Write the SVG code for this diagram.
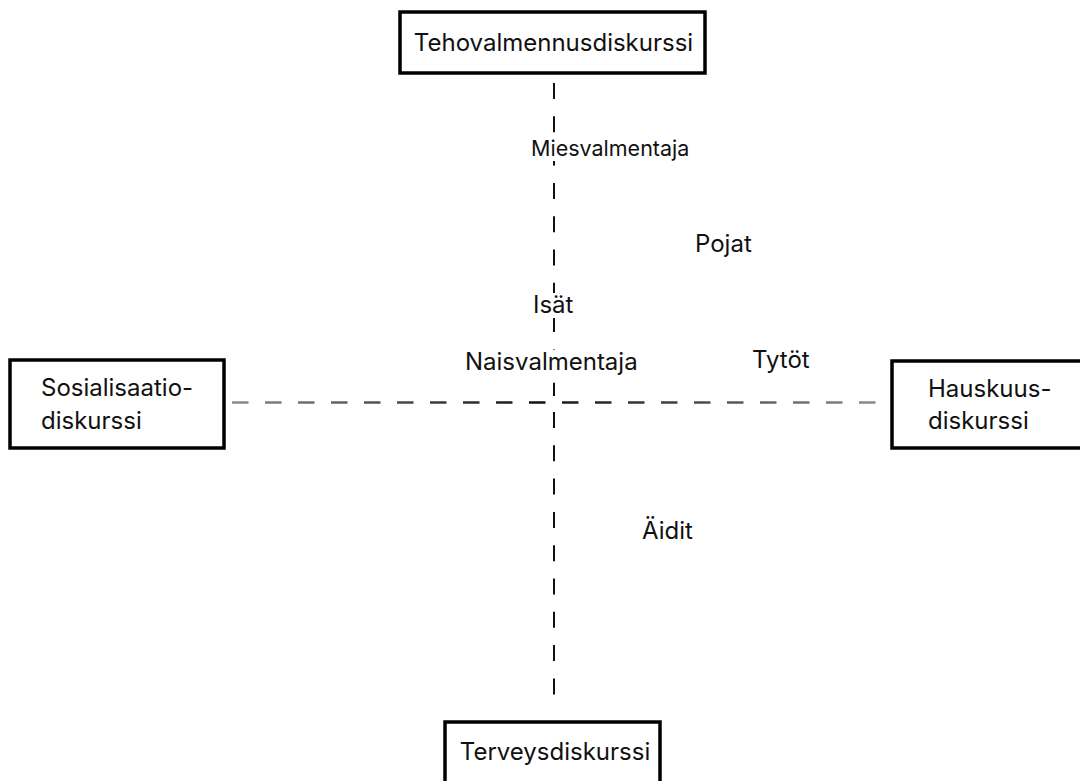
<svg xmlns="http://www.w3.org/2000/svg" width="1080" height="781" viewBox="0 0 1080 781">
  <style>
    .box { fill: #ffffff; stroke: #000000; stroke-width: 3.5; }
    .txt { font-family: Inter, "Noto Sans", "Liberation Sans", sans-serif; font-size: 24px; fill: #111111; }
    .sm { font-size: 21.5px; }
    .bg { fill: #ffffff; stroke: none; }
    .vline { stroke: #111111; stroke-width: 2; stroke-dasharray: 16 17.3; fill: none; }
    .hline { stroke: url(#hgrad); stroke-width: 2.6; stroke-dasharray: 16.5 16.5; fill: none; }
  </style>
  <defs>
    <linearGradient id="hgrad" gradientUnits="userSpaceOnUse" x1="232" y1="0" x2="877" y2="0">
      <stop offset="0" stop-color="#8c8c8c"/>
      <stop offset="0.48" stop-color="#111111"/>
      <stop offset="1" stop-color="#8c8c8c"/>
    </linearGradient>
  </defs>
  <rect x="0" y="0" width="1080" height="781" fill="#ffffff"/>

  <g id="connectors">
    <line class="vline" x1="554" y1="83" x2="554" y2="396"/>
    <line class="vline" x1="554" y1="412" x2="554" y2="710"/>
    <line class="hline" x1="232" y1="402.5" x2="877" y2="402.5"/>
  </g>

  <g id="node-tehovalmennus">
    <rect class="box" x="400" y="12" width="305" height="61"/>
    <text class="txt" x="553.5" y="51" text-anchor="middle">Tehovalmennusdiskurssi</text>
  </g>

  <g id="node-sosialisaatio">
    <rect class="box" x="10" y="360" width="214" height="88"/>
    <text class="txt" x="41" y="396">Sosialisaatio-</text>
    <text class="txt" x="41" y="429">diskurssi</text>
  </g>

  <g id="node-hauskuus">
    <rect class="box" x="892" y="361" width="192" height="87"/>
    <text class="txt" x="928" y="397">Hauskuus-</text>
    <text class="txt" x="928" y="429">diskurssi</text>
  </g>

  <g id="node-terveys">
    <rect class="box" x="445" y="722" width="215" height="70"/>
    <text class="txt" x="555" y="760" text-anchor="middle">Terveysdiskurssi</text>
  </g>

  <g id="label-miesvalmentaja">
    <rect class="bg" x="529" y="136" width="160" height="25"/>
    <text class="txt sm" x="531" y="156">Miesvalmentaja</text>
  </g>
  <g id="label-pojat">
    <text class="txt" x="695" y="252">Pojat</text>
  </g>
  <g id="label-isat">
    <rect class="bg" x="530" y="293" width="50" height="25"/>
    <text class="txt" x="533" y="313">Isät</text>
  </g>
  <g id="label-naisvalmentaja">
    <rect class="bg" x="462" y="350" width="180" height="27"/>
    <text class="txt" x="465" y="370">Naisvalmentaja</text>
  </g>
  <g id="label-tytot">
    <text class="txt" x="752" y="368">Tytöt</text>
  </g>
  <g id="label-aidit">
    <text class="txt" x="642" y="539">Äidit</text>
  </g>
</svg>
